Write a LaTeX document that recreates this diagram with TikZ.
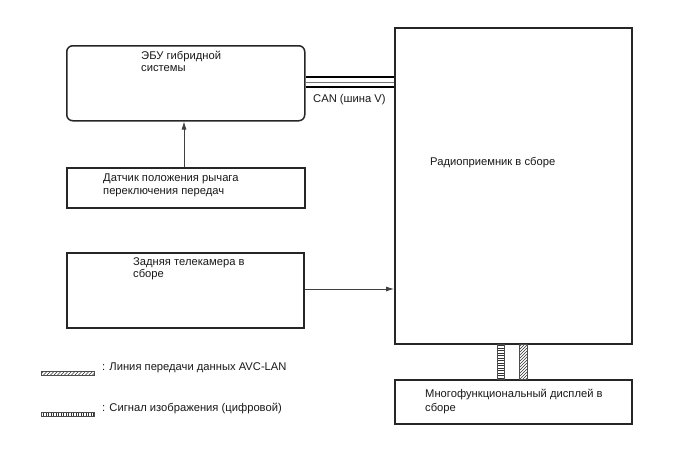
\documentclass[tikz,border=0pt]{standalone}
\usepackage{fontspec}
\setmainfont{Liberation Sans}
\usetikzlibrary{arrows.meta}
\begin{document}
\begin{tikzpicture}[x=1pt,y=-1pt,
  box/.style={draw=black!85, line width=1.5pt, rectangle, anchor=north west, inner sep=0pt},
  txt/.style={anchor=base west, inner sep=0pt, font=\fontsize{11.2}{13}\selectfont, text=black!90},
  conn/.style={draw=black!75, line width=0.8pt},
  hatch/.style={line width=0.6pt, draw=black!80},
  strip/.style={draw=black!70, line width=0.6pt}]
\useasboundingbox[fill=white] (0,0) rectangle (688,463);
% boxes
\node[box, rounded corners=6pt, minimum width=238pt, minimum height=75pt] (ecu) at (66,45) {};
\node[box, minimum width=238pt, minimum height=40pt] (sensor) at (66,167) {};
\node[box, minimum width=237pt, minimum height=75pt] (cam) at (66,252) {};
\node[box, minimum width=237pt, minimum height=316pt] (radio) at (394,27) {};
\node[box, minimum width=237pt, minimum height=44pt] (disp) at (394,379) {};
% texts
\node[txt] (t1) at (141,59) {ЭБУ гибридной};
\node[txt] (t2) at (141,71.5) {системы};
\node[txt] (t3) at (103,181) {Датчик положения рычага};
\node[txt] (t4) at (103,194) {переключения передач};
\node[txt] (t5) at (133,265) {Задняя телекамера в};
\node[txt] (t6) at (133,277.5) {сборе};
\node[txt] (t7) at (430,165) {Радиоприемник в сборе};
\node[txt] (t8) at (313,102) {CAN (шина V)};
\node[txt] (t9) at (425,397) {Многофункциональный дисплей в};
\node[txt] (t10) at (425,411) {сборе};
\node[txt] (t11) at (102,370) {: Линия передачи данных AVC-LAN};
\node[txt] (t12) at (102,411) {: Сигнал изображения (цифровой)};
% arrows
\coordinate (ax) at (184,0);
\draw[conn, -{Latex[length=8pt,width=5pt]}] (ax |- sensor.north) -- (ax |- ecu.south);
\coordinate (cy) at (0,289);
\draw[conn, -{Latex[length=8pt,width=5pt]}] (cam.east |- cy) -- (radio.west |- cy);
% CAN bus
\draw[line width=2pt, black] (ecu.east |- 0,77) -- (radio.west |- 0,77);
\draw[line width=0.9pt, black!55] (ecu.east |- 0,82) -- (radio.west |- 0,82);
\draw[line width=2pt, black] (ecu.east |- 0,87) -- (radio.west |- 0,87);
% image signal strip (rungs)
\coordinate (s1a) at (497,0);
\coordinate (s1b) at (504,0);
\begin{scope}
\clip (s1a |- radio.south) rectangle (s1b |- disp.north);
\foreach \i in {0,2.5,...,40} \draw[hatch] (497,343+\i) -- (504,343+\i);
\end{scope}
\draw[strip] (s1a |- radio.south) rectangle (s1b |- disp.north);
% AVC-LAN strip (diagonal)
\coordinate (s2a) at (519,0);
\coordinate (s2b) at (527,0);
\begin{scope}
\clip (s2a |- radio.south) rectangle (s2b |- disp.north);
\foreach \i in {-10,-7,...,46} \draw[hatch] (519,343+\i+8) -- (527,343+\i);
\end{scope}
\draw[strip] (s2a |- radio.south) rectangle (s2b |- disp.north);
% legend bars
\begin{scope}
\clip (41,371.5) rectangle (94,375.5);
\foreach \i in {36,39.5,...,100} \draw[hatch] (\i,375.5) -- (\i+4,371.5);
\end{scope}
\draw[strip] (41,371.5) rectangle (94,375.5);
\begin{scope}
\clip (41,412) rectangle (94,416);
\foreach \i in {41,43.5,...,94} \draw[hatch] (\i,412) -- (\i,416);
\end{scope}
\draw[strip] (41,412) rectangle (94,416);
\end{tikzpicture}
\end{document}
